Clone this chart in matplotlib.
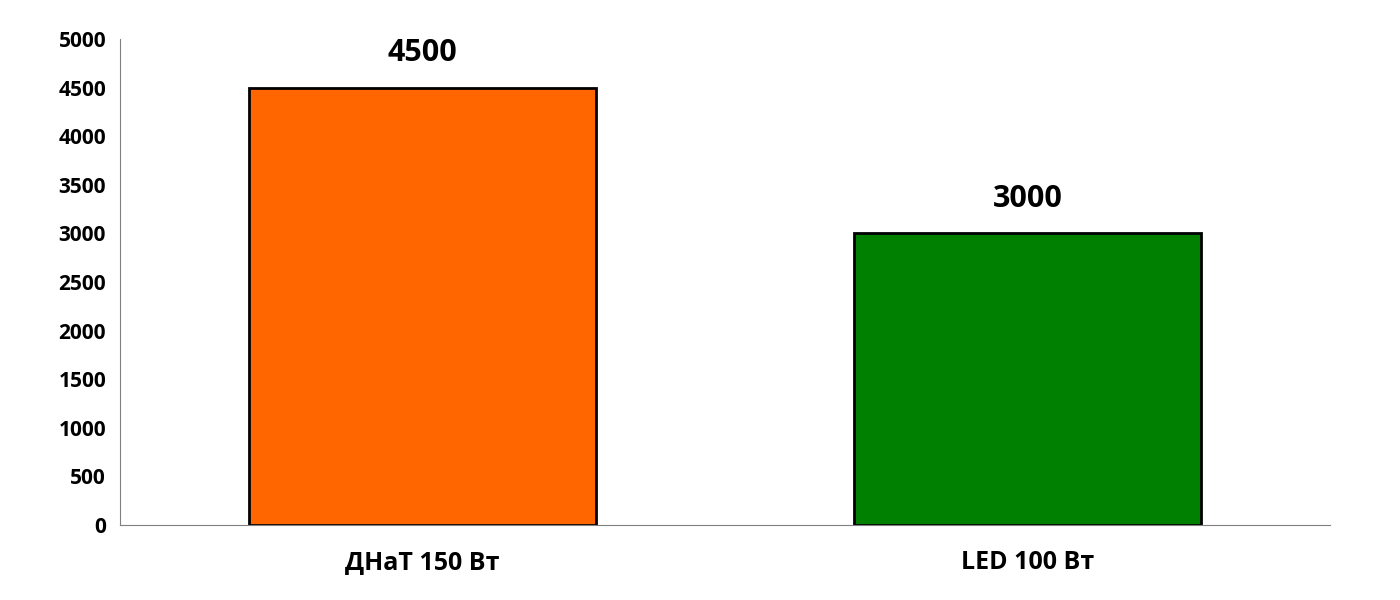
import matplotlib
matplotlib.use("Agg")
import matplotlib.pyplot as plt

categories = ["ДНаТ 150 Вт", "LED 100 Вт"]
values = [4500, 3000]
colors = ["#FF6600", "#008000"]
yticks = [0, 500, 1000, 1500, 2000, 2500, 3000, 3500, 4000, 4500, 5000]

plt.rcParams["font.family"] = "Open Sans"
plt.rcParams["font.weight"] = "bold"

fig = plt.figure(figsize=(14, 6), dpi=100)
ax = fig.add_axes([0.0857, 0.125, 0.8643, 0.81])

x = range(len(categories))
ax.bar(x, values, width=0.575, color=colors, edgecolor="black", linewidth=2)
for xi, v in zip(x, values):
    ax.text(xi, v + 200, str(v), ha="center", va="bottom", fontsize=22, fontweight="bold")

ax.set_xlim(-0.5, 1.5)
ax.set_ylim(0, 5000)
ax.set_yticks(yticks)
ax.set_xticks(list(x))
ax.set_xticklabels(categories, fontsize=18, fontweight="bold")
ax.tick_params(axis="y", labelsize=15, length=0, pad=10)
ax.tick_params(axis="x", length=0, pad=18)
for s in ["top", "right"]:
    ax.spines[s].set_visible(False)
ax.spines["left"].set_color("#808080")
ax.spines["bottom"].set_color("#808080")

fig.savefig("out.png", dpi=100)
